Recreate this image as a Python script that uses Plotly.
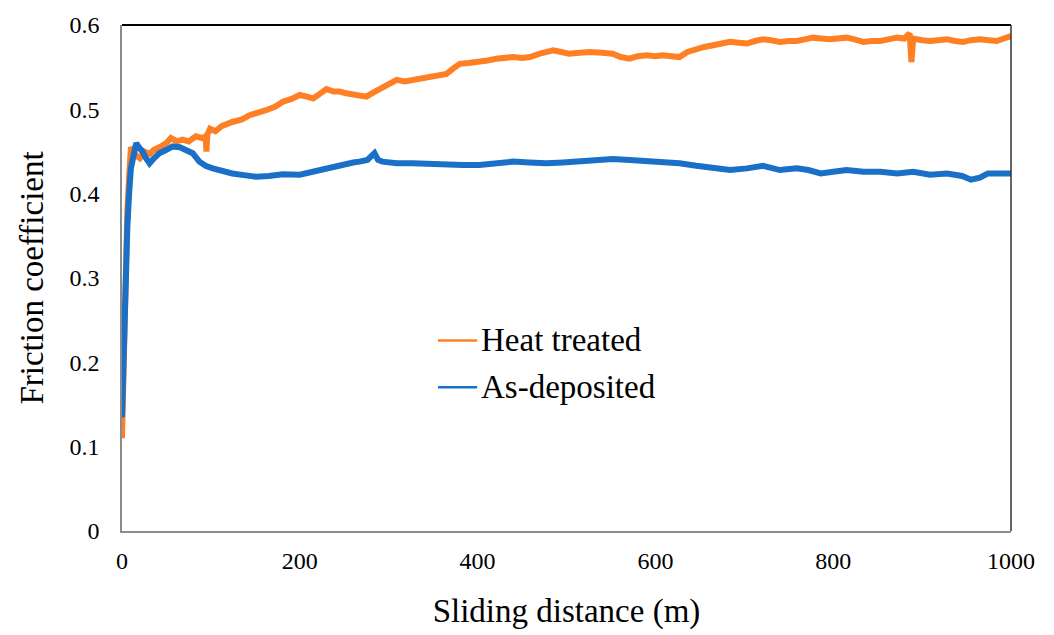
import plotly.graph_objects as go

# Friction coefficient vs sliding distance for the two coating conditions
heat_dist = [0, 2, 4, 6, 8, 10, 13, 16, 20, 25, 31, 36, 42, 50, 55, 62, 68, 75, 83, 90,
             94, 95, 96, 99, 105, 112, 124, 135, 143.5, 152, 162, 172, 181, 190, 200, 208,
             215, 222, 230, 238, 245, 252, 260, 268, 275, 283, 290, 300, 309, 318, 327,
             336, 346, 355, 365, 372, 380, 390, 402, 411, 421, 430, 440, 450, 459, 470,
             485, 494, 503, 515, 526, 540, 552, 561, 571, 580, 590, 600, 608, 618, 627,
             636, 646, 655, 665, 675, 684, 694, 703, 712, 721, 730, 740, 750, 759, 768,
             777, 786, 796, 805, 815, 824, 834, 843, 853, 862, 872, 880, 886, 888, 890,
             900, 909, 918, 928, 937, 946, 955, 965, 975, 984, 992, 1000]
heat_mu = [0.11, 0.20, 0.33, 0.38, 0.42, 0.455, 0.45, 0.445, 0.442, 0.45, 0.447, 0.452,
           0.455, 0.46, 0.466, 0.462, 0.464, 0.462, 0.468, 0.466, 0.468, 0.45, 0.47, 0.477,
           0.474, 0.48, 0.485, 0.488, 0.493, 0.495, 0.499, 0.503, 0.509, 0.512, 0.517,
           0.515, 0.513, 0.518, 0.524, 0.521, 0.521, 0.519, 0.517, 0.516, 0.515, 0.52,
           0.524, 0.530, 0.535, 0.533, 0.535, 0.536, 0.538, 0.540, 0.542, 0.548, 0.554,
           0.555, 0.556, 0.558, 0.560, 0.561, 0.562, 0.561, 0.562, 0.566, 0.570, 0.568,
           0.566, 0.567, 0.568, 0.567, 0.566, 0.562, 0.560, 0.563, 0.564, 0.563, 0.564,
           0.563, 0.562, 0.568, 0.572, 0.574, 0.576, 0.578, 0.580, 0.579, 0.578, 0.581,
           0.583, 0.582, 0.580, 0.581, 0.581, 0.583, 0.585, 0.584, 0.583, 0.584, 0.585,
           0.583, 0.580, 0.581, 0.581, 0.583, 0.585, 0.584, 0.590, 0.556, 0.584, 0.582,
           0.581, 0.582, 0.583, 0.581, 0.580, 0.582, 0.583, 0.582, 0.581, 0.584, 0.587]

asdep_dist = [0, 2, 4, 6, 8, 10, 13, 16, 19, 23, 27, 31, 36, 42, 50, 57, 65, 72, 79.5, 87,
              94, 102, 112, 124, 137, 151, 165, 181, 200, 210, 219, 228, 237, 250, 260,
              267, 276, 284, 288, 293, 300, 309, 327, 346, 365, 383, 402, 421, 440, 458,
              477, 496, 515, 533, 552, 571, 590, 608, 627, 646, 665, 684, 703, 721, 740,
              759, 772, 786, 800, 815, 834, 853, 872, 890, 909, 928, 945, 955, 965, 974,
              987, 1000]
asdep_mu = [0.135, 0.22, 0.33, 0.36, 0.40, 0.43, 0.445, 0.46, 0.455, 0.450, 0.442, 0.436,
            0.442, 0.448, 0.452, 0.456, 0.455, 0.452, 0.448, 0.438, 0.433, 0.430, 0.427,
            0.424, 0.422, 0.420, 0.421, 0.423, 0.4225, 0.425, 0.428, 0.430, 0.432, 0.435,
            0.437, 0.438, 0.440, 0.448, 0.440, 0.438, 0.437, 0.436, 0.436, 0.435, 0.434,
            0.434, 0.434, 0.436, 0.438, 0.437, 0.436, 0.437, 0.438, 0.440, 0.441, 0.440,
            0.439, 0.437, 0.436, 0.433, 0.430, 0.428, 0.430, 0.433, 0.428, 0.430, 0.428,
            0.424, 0.426, 0.428, 0.426, 0.426, 0.424, 0.426, 0.4225, 0.424, 0.421, 0.4166,
            0.419, 0.424, 0.424, 0.424]

x_ticks = [0, 200, 400, 600, 800, 1000]
y_ticks = [0, 0.1, 0.2, 0.3, 0.4, 0.5, 0.6]
series_names = ["Heat treated", "As-deposited"]

ORANGE = "#FF7F24"
BLUE = "#1A6FC6"
FONT = "Liberation Serif"

fig = go.Figure()

# measured signal, drawn thick since it forms a dense band
fig.add_trace(go.Scatter(x=heat_dist, y=heat_mu, mode="lines", name=series_names[0],
                         line=dict(color=ORANGE, width=6), showlegend=False))
fig.add_trace(go.Scatter(x=asdep_dist, y=asdep_mu, mode="lines", name=series_names[1],
                         line=dict(color=BLUE, width=6), showlegend=False))

# in-plot key: short thin line sample followed by the series name
key_x0, key_x1, key_text_x = 0.3555, 0.3995, 0.4015
key_rows = [0.3765, 0.2843]
shapes = []
annotations = []
for name, color, ky in zip(series_names, [ORANGE, BLUE], key_rows):
    shapes.append(dict(type="line", xref="x domain", yref="y domain",
                       x0=key_x0, x1=key_x1, y0=ky, y1=ky,
                       line=dict(color=color, width=2.5)))
    annotations.append(dict(text=name, xref="x domain", yref="y domain",
                            x=key_text_x, y=ky, xanchor="left", yanchor="middle",
                            showarrow=False, font=dict(family=FONT, size=33, color="black")))

# plot frame: dark top and right edges
shapes += [
    dict(type="line", xref="x domain", yref="y domain", x0=0, x1=1, y0=1, y1=1,
         line=dict(color="black", width=2)),
    dict(type="line", xref="x domain", yref="y domain", x0=1, x1=1, y0=0, y1=1,
         line=dict(color="#333333", width=1.5)),
]

fig.update_layout(
    width=1054, height=635,
    margin=dict(l=122, r=43, t=22, b=103),
    paper_bgcolor="white", plot_bgcolor="white",
    font=dict(family=FONT, color="black", size=24),
    showlegend=False,
    xaxis=dict(range=[0, 1000], tickvals=x_ticks, showgrid=False, zeroline=False,
               showline=True, linecolor="#8c8c8c", linewidth=1.5, ticks="",
               tickfont=dict(size=24), ticklabelstandoff=7,
               title=dict(text="Sliding distance (m)", font=dict(size=33), standoff=26)),
    yaxis=dict(range=[0, 0.6], tickvals=y_ticks, showgrid=False, zeroline=False,
               showline=True, linecolor="#8c8c8c", linewidth=1.5, ticks="",
               tickfont=dict(size=24), ticklabelstandoff=16,
               title=dict(text="Friction coefficient", font=dict(size=33), standoff=16)),
    shapes=shapes,
    annotations=annotations,
)

fig.write_html("out.html")
